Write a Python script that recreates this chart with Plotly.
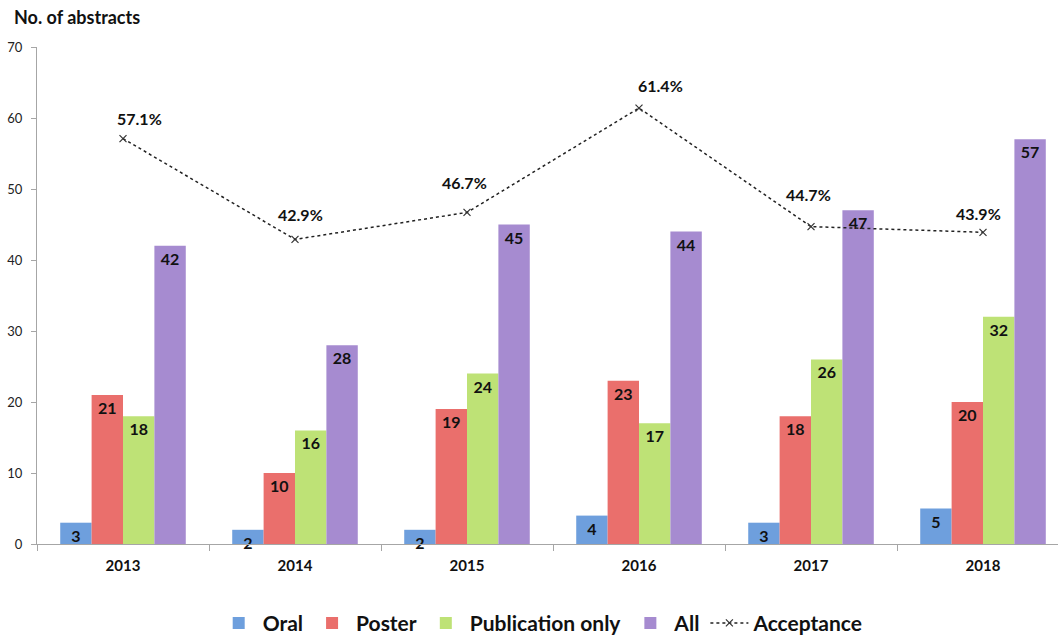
import plotly.graph_objects as go

years = ["2013", "2014", "2015", "2016", "2017", "2018"]
oral = [3, 2, 2, 4, 3, 5]
poster = [21, 10, 19, 23, 18, 20]
publication_only = [18, 16, 24, 17, 26, 32]
all_abstracts = [42, 28, 45, 44, 47, 57]
acceptance = [57.1, 42.9, 46.7, 61.4, 44.7, 43.9]

FONT = "Lato"
series = [
    ("Oral", oral, "#6E9FDD"),
    ("Poster", poster, "#EA6F6C"),
    ("Publication only", publication_only, "#BEE276"),
    ("All", all_abstracts, "#A68BD0"),
]

fig = go.Figure()
for name, vals, col in series:
    fig.add_trace(go.Bar(
        x=years, y=vals, name=name,
        marker=dict(color=col, line=dict(width=0)),
        text=[str(v) for v in vals],
        textposition="inside", insidetextanchor="end", textangle=0,
        textfont=dict(family=FONT, size=16, color="#111111", weight="bold"),
        cliponaxis=False,
    ))

fig.add_trace(go.Scatter(
    x=years, y=acceptance, name="Acceptance", mode="lines+markers",
    line=dict(color="#222222", width=1.5, dash="dot"),
    marker=dict(symbol="x-thin", size=7, line=dict(color="#333333", width=1.2)),
))

# percentage labels (offsets in pixels, as in the reference)
dx = [16, 5, -3, 21, -3, -5]
dy = [20, 25, 30, 23, 32, 19]
for i, v in enumerate(acceptance):
    fig.add_annotation(
        x=i, y=v, xref="x", yref="y", text=f"{v:.1f}%", showarrow=False,
        xshift=dx[i], yshift=dy[i],
        font=dict(family=FONT, size=16, color="#111111", weight="bold"),
    )

fig.add_annotation(
    xref="paper", yref="paper", x=-0.024, y=1.0, yshift=30,
    xanchor="left", yanchor="middle", showarrow=False,
    text="No. of abstracts",
    font=dict(family=FONT, size=18, color="#111111", weight="bold"),
)

fig.update_layout(
    width=1058, height=636,
    margin=dict(l=37, r=0, t=47, b=92),
    paper_bgcolor="white", plot_bgcolor="white",
    barmode="group", bargap=0.27, bargroupgap=0,
    uniformtext=dict(mode="show", minsize=16),
    showlegend=True,
    legend=dict(
        orientation="h", x=0.512, xref="container", xanchor="center",
        y=0.02, yref="container", yanchor="middle",
        font=dict(family=FONT, size=21, color="#111111", weight="bold"),
        itemwidth=38, traceorder="normal",
    ),
    xaxis=dict(
        type="category", range=[-0.5, 5.436],
        showline=True, linecolor="#A6A6A6", linewidth=1,
        ticks="outside", tickson="boundaries", ticklen=6, tickcolor="#A6A6A6",
        tickfont=dict(family=FONT, size=15, color="#111111", weight="bold"),
        ticklabelstandoff=8, showgrid=False,
    ),
    yaxis=dict(
        range=[0, 70], dtick=10,
        showline=True, linecolor="#A6A6A6", linewidth=1,
        ticks="outside", ticklen=5, tickcolor="#A6A6A6",
        tickfont=dict(family=FONT, size=13, color="#222222"),
        ticklabelstandoff=6, showgrid=False, zeroline=False,
    ),
)

fig.write_html("out.html")
